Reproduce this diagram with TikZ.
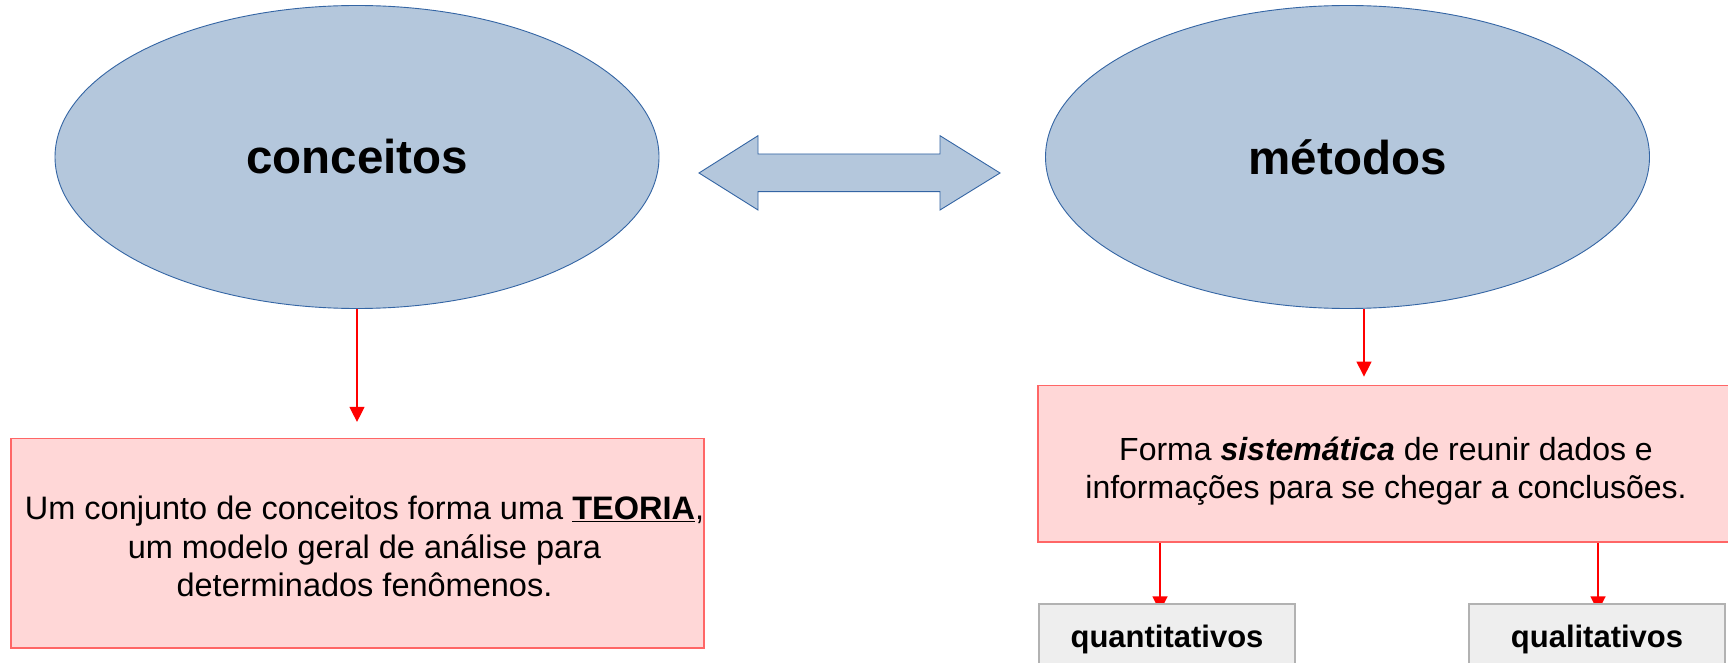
\documentclass[tikz,border=0pt]{standalone}
\usepackage{fontspec}
\setmainfont{Liberation Sans}
\usetikzlibrary{shapes.geometric,arrows.meta,backgrounds}
\definecolor{ellfill}{RGB}{180,199,220}
\definecolor{elldraw}{RGB}{52,101,164}
\definecolor{pinkfill}{RGB}{255,215,215}
\definecolor{pinkdraw}{RGB}{255,102,102}
\definecolor{grayfill}{RGB}{238,238,238}
\definecolor{graydraw}{RGB}{178,178,178}
\begin{document}
\begin{tikzpicture}[x=1pt,y=-1pt,
  ell/.style={ellipse, draw=elldraw, fill=ellfill, line width=0.9pt, minimum width=604pt, minimum height=303pt, inner sep=0pt, font=\fontsize{47.5}{56}\selectfont\bfseries},
  pinkbox/.style={draw=pinkdraw, fill=pinkfill, line width=1.3pt, inner sep=0pt},
  boxtext/.style={align=center, inner sep=0pt},
  graybox/.style={draw=graydraw, fill=grayfill, line width=1.2pt, inner sep=0pt, minimum width=256pt, minimum height=70pt, font=\fontsize{31}{37}\selectfont\bfseries},
  conn/.style={draw=red, line width=1.3pt, -{Triangle[width=15pt,length=15pt]}},
  dblarrow/.style={draw=elldraw, fill=ellfill, line width=0.9pt, line join=miter}
]
\useasboundingbox (0,0) rectangle (1728,663);
\clip (0,0) rectangle (1728,663);

\node[ell] (con) at (357,157) {conceitos};
\node[ell] (met) at (1347.5,157) {métodos};

\draw[dblarrow] (699,173) -- (758,135.7) -- (758,154) -- (940,154) -- (940,135.7) -- (1000,173) -- (940,210) -- (940,191.7) -- (758,191.7) -- (758,210) -- cycle;

\node[pinkbox, minimum width=693pt, minimum height=209.5pt] (teo) at (357.5,543.3) {};
\node[boxtext, font=\fontsize{32.5}{38.5}\selectfont] (teotxt) at (364.5,546.5)
  {Um conjunto de conceitos forma uma \underline{\textbf{TEORIA}},\\ um modelo geral de análise para\\ determinados fenômenos.};
\node[pinkbox, minimum width=696pt, minimum height=156.3pt] (sys) at (1386,463.9) {};
\node[boxtext, font=\fontsize{32}{37.5}\selectfont] (systxt) at (1386,471)
  {Forma \textbf{\textit{sistemática}} de reunir dados e\\ informações para se chegar a conclusões.};

\node[graybox] (quant) at (1167,639) {quantitativos};
\node[graybox] (qual) at (1597,639) {qualitativos};

\coordinate (a1) at ([yshift=16pt]teo.north -| con.south);
\coordinate (a2) at ([xshift=-22pt, yshift=8.5pt]sys.north);
\draw[conn] (con.south) -- (a1);
\draw[conn] ([xshift=16.5pt]met.south) -- (a2);

\begin{pgfonlayer}{background}
\fill[white] (0,0) rectangle (1728,663);
\draw[conn] ([xshift=-226pt]sys.south) -- ([xshift=-7pt,yshift=-8pt]quant.north);
\draw[conn] ([xshift=212pt]sys.south) -- ([xshift=1pt,yshift=-8pt]qual.north);
\end{pgfonlayer}
\end{tikzpicture}
\end{document}
